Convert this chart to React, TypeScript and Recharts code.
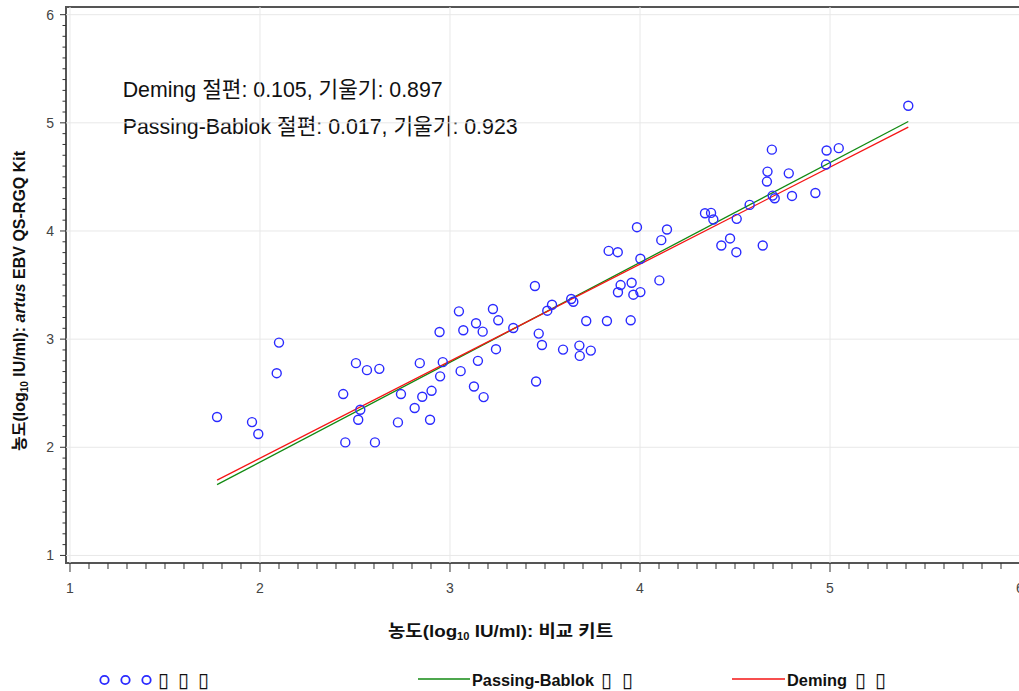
import React from 'react';
import { ScatterChart, Scatter, XAxis, YAxis, ReferenceLine, ReferenceArea } from 'recharts';

// 비교 키트 (x) and artus EBV QS-RGQ Kit (y), log10 IU/ml
const compKit = [
  1.774, 1.958, 1.991, 2.100, 2.088, 2.438, 2.449, 2.505, 2.517, 2.528,
  2.563, 2.628, 2.605, 2.742, 2.726, 2.814, 2.841, 2.854, 2.895, 2.903,
  2.945, 2.948, 2.962, 3.056, 3.047, 3.070, 3.126, 3.137, 3.147, 3.172,
  3.177, 3.226, 3.254, 3.242, 3.333, 3.447, 3.453, 3.467, 3.484, 3.512,
  3.537, 3.595, 3.638, 3.649, 3.681, 3.683, 3.717, 3.741, 3.826, 3.835,
  3.883, 3.884, 3.898, 3.951, 3.956, 3.965, 3.984, 4.002, 4.002, 4.102,
  4.112, 4.142, 4.342, 4.374, 4.386, 4.428, 4.474, 4.507, 4.509, 4.577,
  4.646, 4.671, 4.668, 4.694, 4.698, 4.709, 4.783, 4.800, 4.923, 4.979,
  4.982, 5.046, 5.412,
];
const qsKit = [
  2.280, 2.233, 2.123, 2.968, 2.685, 2.492, 2.045, 2.778, 2.255, 2.347,
  2.713, 2.725, 2.045, 2.492, 2.230, 2.363, 2.778, 2.467, 2.255, 2.522,
  3.066, 2.656, 2.787, 2.704, 3.257, 3.082, 2.562, 3.147, 2.799, 3.069,
  2.464, 3.279, 3.174, 2.907, 3.103, 3.491, 2.608, 3.051, 2.946, 3.263,
  3.318, 2.903, 3.371, 3.346, 2.940, 2.845, 3.168, 2.894, 3.168, 3.816,
  3.804, 3.433, 3.500, 3.174, 3.521, 3.411, 4.035, 3.743, 3.435, 3.543,
  3.915, 4.014, 4.164, 4.167, 4.106, 3.866, 3.931, 3.804, 4.112, 4.241,
  3.866, 4.549, 4.457, 4.752, 4.327, 4.303, 4.533, 4.324, 4.351, 4.614,
  4.744, 4.766, 5.158,
];

const majorTicks = [1, 2, 3, 4, 5, 6];
const demingFit = { intercept: 0.105, slope: 0.897 };
const passingBablokFit = { intercept: 0.017, slope: 0.923 };
const annotationLines = [
  'Deming 절편: 0.105, 기울기: 0.897',
  'Passing-Bablok 절편: 0.017, 기울기: 0.923',
];
const legendNames = ['', 'Passing-Bablok', 'Deming'];
const legendBoxCounts = [3, 2, 2];
const xDomain: [number, number] = [0.979, 6.021];
const yDomain: [number, number] = [0.93, 6.071];

const points = compKit.map((x, i) => ({ x, y: qsKit[i] }));
const minorTicks: number[] = [];
majorTicks.forEach((m, i) => {
  const steps = i === majorTicks.length - 1 ? 1 : 10;
  for (let j = 0; j < steps; j++) minorTicks.push(Math.round((m + j / 10) * 10) / 10);
});
const xMin = Math.min(...compKit);
const xMax = Math.max(...compKit);
const fitSegment = (f: { intercept: number; slope: number }) => [
  { x: xMin, y: f.intercept + f.slope * xMin },
  { x: xMax, y: f.intercept + f.slope * xMax },
];

const FONT = "'Liberation Sans', 'Noto Sans CJK KR', sans-serif";
const BOX_FONT = "'DejaVu Sans', sans-serif";
const BLUE = '#2a2aff';
const GREEN = '#128a12';
const RED = '#f51515';

const XTick = (props: any) => {
  const { x, y, payload } = props;
  const v = payload.value;
  const major = Number.isInteger(v);
  return (
    <g>
      <line x1={x} x2={x} y1={y} y2={y + (major ? 9 : 6)} stroke="#333" strokeWidth={1} />
      {major && (
        <text x={x} y={y + 30} textAnchor="middle" fontSize={14} fill="#444" fontFamily={FONT}>
          {v}
        </text>
      )}
    </g>
  );
};

const YTick = (props: any) => {
  const { x, y, payload } = props;
  const v = payload.value;
  const major = Number.isInteger(v);
  return (
    <g>
      <line x1={x - (major ? 6 : 3.5)} x2={x} y1={y} y2={y} stroke="#333" strokeWidth={1} />
      {major && (
        <text x={x - 12} y={y} dy="0.36em" textAnchor="end" fontSize={14} fill="#444" fontFamily={FONT}>
          {v}
        </text>
      )}
    </g>
  );
};

const Dot = (props: any) => {
  const { cx, cy } = props;
  return <circle cx={cx} cy={cy} r={4.5} fill="none" stroke={BLUE} strokeWidth={1.4} />;
};

const legendItems = [
  { name: legendNames[0], count: legendBoxCounts[0], x: 158, len: 0, boxStart: 158, gap: 20 },
  { name: legendNames[1], count: legendBoxCounts[1], x: 472, len: 122, boxStart: 601, gap: 21 },
  { name: legendNames[2], count: legendBoxCounts[2], x: 787, len: 60, boxStart: 855, gap: 20 },
];

const Extras = () => (
  <g>
    {annotationLines.map((t, i) => (
      <text
        key={t}
        x={122.7}
        y={96.7 + i * 37.6}
        fontSize={22}
        fill="#111"
        fontFamily={FONT}
        textLength={i === 0 ? 320 : 395}
        lengthAdjust="spacingAndGlyphs"
      >
        {t}
      </text>
    ))}
    <text
      x={388}
      y={637}
      fontSize={17}
      fontWeight="bold"
      fill="#111"
      fontFamily={FONT}
      textLength={225}
      lengthAdjust="spacingAndGlyphs"
    >
      농도(log<tspan fontSize={10} dy={3}>10</tspan>
      <tspan dy={-3}> IU/ml): 비교 키트</tspan>
    </text>
    <text
      x={25}
      y={301}
      transform="rotate(-90 25 301)"
      textAnchor="middle"
      fontSize={16}
      fontWeight="bold"
      fill="#111"
      fontFamily={FONT}
    >
      농도(log<tspan fontSize={10} dy={3}>10</tspan>
      <tspan dy={-3}> IU/ml): </tspan>
      <tspan fontStyle="italic">artus</tspan>
      <tspan> EBV QS-RGQ Kit</tspan>
    </text>
    {[104.5, 125.5, 146.5].map((cx) => (
      <circle key={cx} cx={cx} cy={680} r={4.2} fill="none" stroke={BLUE} strokeWidth={1.8} />
    ))}
    <line x1={418} x2={470} y1={679} y2={679} stroke={GREEN} strokeWidth={1.5} />
    <line x1={732} x2={785} y1={679} y2={679} stroke={RED} strokeWidth={1.5} />
    {legendItems.map((it, i) => (
      <g key={i}>
        {it.name && (
          <text x={it.x} y={686} fontSize={16} fontWeight="bold" fill="#111" fontFamily={FONT} textLength={it.len} lengthAdjust="spacingAndGlyphs">
            {it.name}
          </text>
        )}
        {Array.from({ length: it.count }).map((_, k) => (
          <text key={k} x={it.boxStart + k * it.gap} y={687} fontSize={20} fill="#111" fontFamily={BOX_FONT}>
            ▯
          </text>
        ))}
      </g>
    ))}
  </g>
);

export default function App() {
  return (
    <div
      style={{
        position: 'fixed',
        left: 0,
        top: 0,
        width: 1019,
        height: 691,
        overflow: 'hidden',
        background: '#fff',
      }}
    >
      <ScatterChart width={1030} height={691} margin={{ top: 7, right: 6, bottom: 98, left: 0 }}>
        <XAxis
          type="number"
          dataKey="x"
          domain={xDomain}
          ticks={minorTicks}
          interval={0}
          tick={<XTick />}
          tickLine={false}
          axisLine={false}
          tickSize={0}
          tickMargin={0}
          height={30}
          allowDataOverflow
        />
        <YAxis
          type="number"
          dataKey="y"
          domain={yDomain}
          ticks={minorTicks}
          interval={0}
          tick={<YTick />}
          tickLine={false}
          axisLine={false}
          tickSize={0}
          tickMargin={0}
          width={66}
          allowDataOverflow
        />
        {majorTicks.map((v) => (
          <ReferenceLine key={'gx' + v} x={v} stroke="#e8e8e8" strokeWidth={1} />
        ))}
        {majorTicks.map((v) => (
          <ReferenceLine key={'gy' + v} y={v} stroke="#e8e8e8" strokeWidth={1} />
        ))}
        <Scatter data={points} shape={<Dot />} isAnimationActive={false} />
        <ReferenceLine segment={fitSegment(passingBablokFit)} stroke={GREEN} strokeWidth={1.3} ifOverflow="visible" />
        <ReferenceLine segment={fitSegment(demingFit)} stroke={RED} strokeWidth={1.3} ifOverflow="visible" />
        <ReferenceArea
          x1={xDomain[0]}
          x2={xDomain[1]}
          y1={yDomain[0]}
          y2={yDomain[1]}
          fill="none"
          fillOpacity={0}
          stroke="#555"
          strokeWidth={2}
          ifOverflow="visible"
        />
        <Extras />
      </ScatterChart>
    </div>
  );
}
